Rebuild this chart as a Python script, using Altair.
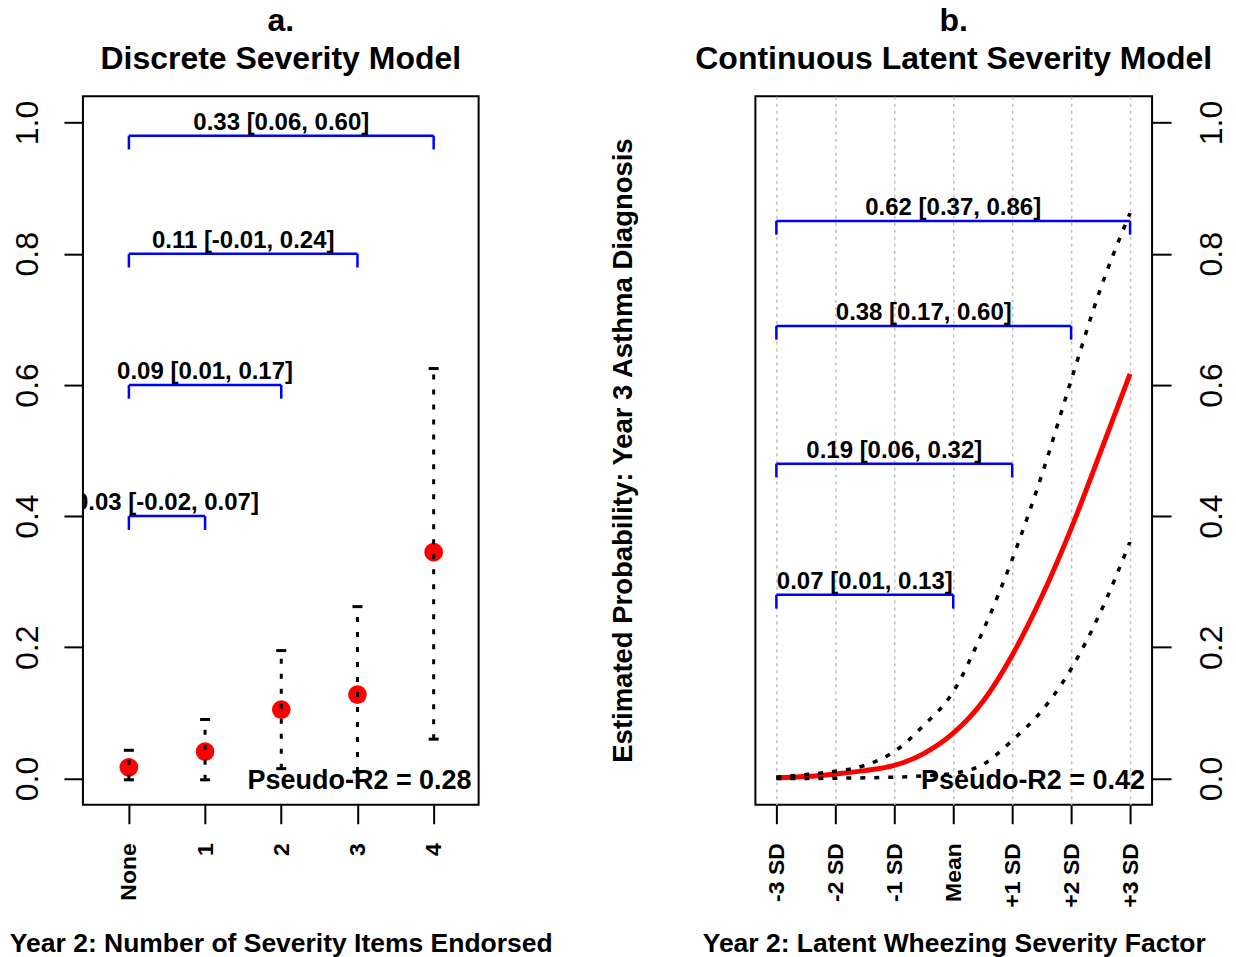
import altair as alt
import pandas as pd

FONT = "Liberation Sans"

# ---------------- Panel a: discrete severity model ----------------
sev_pos = [0, 1, 2, 3, 4]
sev_labels = ["None", "1", "2", "3", "4"]
disc_est = [0.017, 0.041, 0.105, 0.128, 0.345]
disc_lo = [-0.002, -0.002, 0.015, 0.010, 0.060]
disc_hi = [0.043, 0.090, 0.195, 0.262, 0.625]

a_start = [0, 0, 0, 0]
a_end = [4, 3, 2, 1]
a_level = [0.98, 0.80, 0.60, 0.40]
a_text = ["0.33 [0.06, 0.60]", "0.11 [-0.01, 0.24]", "0.09 [0.01, 0.17]", "0.03 [-0.02, 0.07]"]
a_r2 = "Pseudo-R2 = 0.28"

# ---------------- Panel b: continuous latent severity model ----------------
sd_pos = [-3, -2, -1, 0, 1, 2, 3]
sd_labels = ["-3 SD", "-2 SD", "-1 SD", "Mean", "+1 SD", "+2 SD", "+3 SD"]
curve_x = [-3, -2.5, -2, -1.5, -1, -0.5, 0, 0.5, 1, 1.5, 2, 2.5, 3]
p_est = [0.001, 0.003, 0.007, 0.012, 0.020, 0.038, 0.069, 0.117, 0.188, 0.277, 0.381, 0.498, 0.617]
p_upper = [0.002, 0.006, 0.011, 0.020, 0.041, 0.081, 0.132, 0.224, 0.334, 0.462, 0.607, 0.747, 0.862]
p_lower = [0.000, 0.000, 0.0005, 0.001, 0.002, 0.004, 0.008, 0.021, 0.058, 0.103, 0.167, 0.254, 0.361]

b_start = [-3, -3, -3, -3]
b_end = [3, 2, 1, 0]
b_level = [0.85, 0.69, 0.48, 0.28]
b_text = ["0.62 [0.37, 0.86]", "0.38 [0.17, 0.60]", "0.19 [0.06, 0.32]", "0.07 [0.01, 0.13]"]
b_r2 = "Pseudo-R2 = 0.42"

y_title = "Estimated Probability: Year 3 Asthma Diagnosis"
y_ticks = [0.0, 0.2, 0.4, 0.6, 0.8, 1.0]

W_A, W_B, H = 396, 397, 709
TIP = 0.021

def label_expr(labels, offset):
    arr = ",".join("'" + s + "'" for s in labels)
    return "[" + arr + "][datum.value + " + str(offset) + "]"

def bracket_df(start, end, level, text):
    df = pd.DataFrame({"start": start, "end": end, "level": level, "label": text})
    df["tip"] = df["level"] - TIP
    df["mid"] = (df["start"] + df["end"]) / 2
    return df

ys = alt.Scale(domain=[-0.04, 1.04], nice=False, zero=False)

def y_axis(orient, baseline, pad):
    return alt.Axis(orient=orient, values=y_ticks, format=".1f", title=None,
                    labelFont=FONT, labelFontSize=32, labelFontWeight="normal",
                    labelAngle=270, labelAlign="center", labelBaseline=baseline,
                    labelPadding=pad, tickSize=19, tickWidth=2, tickColor="black",
                    labelColor="black", domain=False, grid=False)

def x_axis(values, labels, offset, title, grid, tpad):
    return alt.Axis(values=values, labelExpr=label_expr(labels, offset), title=title,
                    labelFont=FONT, labelFontSize=23, labelFontWeight="bold",
                    labelAngle=270, labelAlign="right", labelBaseline="middle",
                    labelPadding=19, tickSize=19, tickWidth=2, tickColor="black",
                    labelColor="black", domain=False, grid=grid,
                    gridColor="#bebebe", gridDash=[3, 4], gridWidth=1.5,
                    titleFont=FONT, titleFontSize=26.5, titleFontWeight="bold",
                    titleColor="black", titlePadding=tpad)

# ---------------- build panel a ----------------
xa = alt.Scale(domain=[-0.603, 4.59], nice=False, zero=False)
ax_xa = x_axis(sev_pos, sev_labels, 0, "Year 2: Number of Severity Items Endorsed", False, 30)
ax_ya = y_axis("left", "bottom", 19)

pts = pd.DataFrame({"pos": sev_pos, "est": disc_est, "lo": disc_lo, "hi": disc_hi})
brA = bracket_df(a_start, a_end, a_level, a_text)

baseA = alt.Chart(brA)
a_hline = baseA.mark_rule(color="#0000ff", strokeWidth=2.5).encode(
    x=alt.X("start:Q", scale=xa, axis=ax_xa), x2="end:Q",
    y=alt.Y("level:Q", scale=ys, axis=ax_ya))
a_tip1 = baseA.mark_rule(color="#0000ff", strokeWidth=2.5).encode(
    x=alt.X("start:Q", scale=xa, axis=ax_xa),
    y=alt.Y("level:Q", scale=ys, axis=ax_ya), y2="tip:Q")
a_tip2 = baseA.mark_rule(color="#0000ff", strokeWidth=2.5).encode(
    x=alt.X("end:Q", scale=xa, axis=ax_xa),
    y=alt.Y("level:Q", scale=ys, axis=ax_ya), y2="tip:Q")
a_lab = baseA.mark_text(font=FONT, fontSize=24, fontWeight="bold", color="black",
                        baseline="alphabetic", dy=-6, clip=True).encode(
    x=alt.X("mid:Q", scale=xa, axis=ax_xa),
    y=alt.Y("level:Q", scale=ys, axis=ax_ya), text="label:N")

basePts = alt.Chart(pts)
a_pts = basePts.mark_circle(color="#ff0000", opacity=1, size=350).encode(
    x=alt.X("pos:Q", scale=xa, axis=ax_xa), y=alt.Y("est:Q", scale=ys, axis=ax_ya))
a_bars = basePts.mark_rule(color="black", strokeWidth=3, strokeDash=[5, 10]).encode(
    x=alt.X("pos:Q", scale=xa, axis=ax_xa), y=alt.Y("lo:Q", scale=ys, axis=ax_ya), y2="hi:Q")
a_caphi = basePts.mark_tick(color="black", opacity=1, thickness=3, size=10, orient="horizontal").encode(
    x=alt.X("pos:Q", scale=xa, axis=ax_xa), y=alt.Y("hi:Q", scale=ys, axis=ax_ya))
a_caplo = basePts.mark_tick(color="black", opacity=1, thickness=3, size=10, orient="horizontal").encode(
    x=alt.X("pos:Q", scale=xa, axis=ax_xa), y=alt.Y("lo:Q", scale=ys, axis=ax_ya))

a_r2t = alt.Chart(pd.DataFrame({"t": [a_r2]})).mark_text(
    font=FONT, fontSize=27, fontWeight="bold", color="black",
    align="right", baseline="middle", dy=3).encode(
    x=alt.value(W_A - 7), y=alt.datum(0.0, scale=ys), text="t:N")

panelA = alt.layer(a_hline, a_tip1, a_tip2, a_lab, a_pts, a_bars, a_caphi, a_caplo, a_r2t).properties(
    width=W_A, height=H,
    title=alt.TitleParams(text=["a.", "Discrete Severity Model"], font=FONT, fontSize=32,
                          fontWeight="bold", color="black", lineHeight=38,
                          anchor="middle", offset=20))

# ---------------- build panel b ----------------
xb = alt.Scale(domain=[-3.356, 3.373], nice=False, zero=False)
ax_xb = x_axis(sd_pos, sd_labels, 3, "Year 2: Latent Wheezing Severity Factor", True, 23)
ax_yb = y_axis("right", "top", 25)

cur = pd.DataFrame({"z": curve_x, "est": p_est, "up": p_upper, "lo": p_lower})
brB = bracket_df(b_start, b_end, b_level, b_text)

baseB = alt.Chart(brB)
b_hline = baseB.mark_rule(color="#0000ff", strokeWidth=2.5).encode(
    x=alt.X("start:Q", scale=xb, axis=ax_xb), x2="end:Q",
    y=alt.Y("level:Q", scale=ys, axis=ax_yb))
b_tip1 = baseB.mark_rule(color="#0000ff", strokeWidth=2.5).encode(
    x=alt.X("start:Q", scale=xb, axis=ax_xb),
    y=alt.Y("level:Q", scale=ys, axis=ax_yb), y2="tip:Q")
b_tip2 = baseB.mark_rule(color="#0000ff", strokeWidth=2.5).encode(
    x=alt.X("end:Q", scale=xb, axis=ax_xb),
    y=alt.Y("level:Q", scale=ys, axis=ax_yb), y2="tip:Q")
b_lab = baseB.mark_text(font=FONT, fontSize=24, fontWeight="bold", color="black",
                        baseline="alphabetic", dy=-6, clip=True).encode(
    x=alt.X("mid:Q", scale=xb, axis=ax_xb),
    y=alt.Y("level:Q", scale=ys, axis=ax_yb), text="label:N")

baseC = alt.Chart(cur)
b_est = baseC.mark_line(color="#ff0000", strokeWidth=5, interpolate="monotone").encode(
    x=alt.X("z:Q", scale=xb, axis=ax_xb), y=alt.Y("est:Q", scale=ys, axis=ax_yb))
b_up = baseC.mark_line(color="black", strokeWidth=3.5, strokeDash=[5, 9],
                       interpolate="monotone").encode(
    x=alt.X("z:Q", scale=xb, axis=ax_xb), y=alt.Y("up:Q", scale=ys, axis=ax_yb))
b_lo = baseC.mark_line(color="black", strokeWidth=3.5, strokeDash=[5, 9],
                       interpolate="monotone").encode(
    x=alt.X("z:Q", scale=xb, axis=ax_xb), y=alt.Y("lo:Q", scale=ys, axis=ax_yb))

b_r2t = alt.Chart(pd.DataFrame({"t": [b_r2]})).mark_text(
    font=FONT, fontSize=27, fontWeight="bold", color="black",
    align="right", baseline="middle", dy=3).encode(
    x=alt.value(W_B - 7), y=alt.datum(0.0, scale=ys), text="t:N")

b_ytitle = alt.Chart(pd.DataFrame({"t": [y_title]})).mark_text(
    font=FONT, fontSize=27.5, fontWeight="bold", color="black",
    align="center", baseline="middle", angle=270).encode(
    x=alt.value(-131), y=alt.value(H / 2), text="t:N")

panelB = alt.layer(b_hline, b_tip1, b_tip2, b_lab, b_est, b_up, b_lo, b_r2t, b_ytitle).properties(
    width=W_B, height=H,
    title=alt.TitleParams(text=["b.", "Continuous Latent Severity Model"], font=FONT, fontSize=32,
                          fontWeight="bold", color="black", lineHeight=38,
                          anchor="middle", offset=20))

chart = alt.hconcat(panelA, panelB, spacing=277, bounds="flush").properties(
    padding={"left": 0, "top": -4, "right": 0, "bottom": 0},
    background="white"
).configure_view(stroke="black", strokeWidth=2)

chart.save("out.html", embed_options={"renderer": "svg", "actions": False})
